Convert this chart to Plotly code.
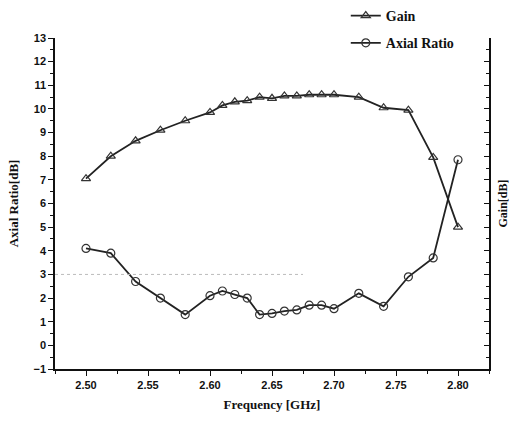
import plotly.graph_objects as go

freq = [2.50, 2.52, 2.54, 2.56, 2.58, 2.60, 2.61, 2.62, 2.63, 2.64, 2.65,
        2.66, 2.67, 2.68, 2.69, 2.70, 2.72, 2.74, 2.76, 2.78, 2.80]
gain = [7.05, 8.0, 8.65, 9.1, 9.5, 9.85, 10.15, 10.3, 10.35, 10.5, 10.45,
        10.55, 10.55, 10.6, 10.6, 10.6, 10.5, 10.05, 9.95, 7.95, 5.0]
axial_ratio = [4.1, 3.9, 2.7, 2.0, 1.3, 2.1, 2.3, 2.15, 2.0, 1.3, 1.35,
               1.45, 1.5, 1.7, 1.7, 1.55, 2.2, 1.65, 2.9, 3.7, 7.85]
x_ticks = [2.50, 2.55, 2.60, 2.65, 2.70, 2.75, 2.80]
y_ticks = list(range(-1, 14))
ref_level = 3

title_font = dict(family="Liberation Serif", size=13, color="#111", weight="bold")

fig = go.Figure()
fig.add_trace(go.Scatter(
    x=freq, y=gain, name="Gain", mode="lines+markers",
    line=dict(color="#222", width=1.8),
    marker=dict(symbol="triangle-up-open", size=8, color="#333", line=dict(width=1.2)),
    legendgroup="g1"))
fig.add_trace(go.Scatter(
    x=freq, y=axial_ratio, name="Axial Ratio", mode="lines+markers",
    line=dict(color="#222", width=1.8),
    marker=dict(symbol="circle-open", size=8, color="#333", line=dict(width=1.2)),
    legendgroup="g2"))
# invisible trace to bind right axis
fig.add_trace(go.Scatter(x=[freq[0]], y=[gain[0]], yaxis="y2", mode="markers",
                         marker=dict(opacity=0), showlegend=False, hoverinfo="skip"))

fig.add_shape(type="line", xref="x", yref="y", x0=2.475, x1=2.675, y0=ref_level, y1=ref_level,
              line=dict(color="#bbb", width=1, dash="dot"))

fig.update_layout(
    width=514, height=424,
    margin=dict(l=55, r=25, t=38, b=55, autoexpand=False),
    paper_bgcolor="white", plot_bgcolor="white",
    showlegend=True,
    legend=dict(x=0.67, y=1.005, xanchor="left", yanchor="top", yref="container",
                font=dict(family="Liberation Serif", size=14, color="#111", weight="bold"),
                bgcolor="rgba(0,0,0,0)", tracegroupgap=6, traceorder="grouped"),
    xaxis=dict(range=[2.475, 2.825], tickvals=x_ticks, tickformat=".2f",
               ticks="outside", ticklen=5, tickwidth=1.2, tickcolor="#111",
               showline=True, linecolor="#111", linewidth=1.5, mirror=False,
               showgrid=False, zeroline=False,
               tickfont=dict(family="Liberation Sans", size=11, color="#111", weight="bold"),
               minor=dict(ticks="outside", ticklen=3, dtick=0.025, tick0=2.475, tickcolor="#111"),
               title=dict(text="Frequency [GHz]", font=title_font, standoff=10)),
    yaxis=dict(range=[-1, 13], tickvals=y_ticks,
               ticks="outside", ticklen=5, tickwidth=1.2, tickcolor="#111",
               showline=True, linecolor="#111", linewidth=1.5,
               showgrid=False, zeroline=False,
               tickfont=dict(family="Liberation Sans", size=11, color="#111", weight="bold"),
               minor=dict(ticks="outside", ticklen=3, dtick=0.5, tick0=-1, tickcolor="#111"),
               title=dict(text="Axial Ratio[dB]", font=title_font, standoff=12)),
    yaxis2=dict(range=[-1, 13], overlaying="y", side="right", tickvals=y_ticks,
                showticklabels=False, ticks="inside", ticklen=5, tickwidth=1.2, tickcolor="#111",
                showline=True, linecolor="#111", linewidth=1.5,
                showgrid=False, zeroline=False,
                minor=dict(ticks="inside", ticklen=3, dtick=0.5, tick0=-1, tickcolor="#111")),
)
fig.add_annotation(text="Gain[dB]", xref="paper", yref="paper", x=1.03, y=0.5,
                   textangle=-90, showarrow=False, font=dict(title_font, size=12),
                   xanchor="center")

fig.write_html("out.html")
